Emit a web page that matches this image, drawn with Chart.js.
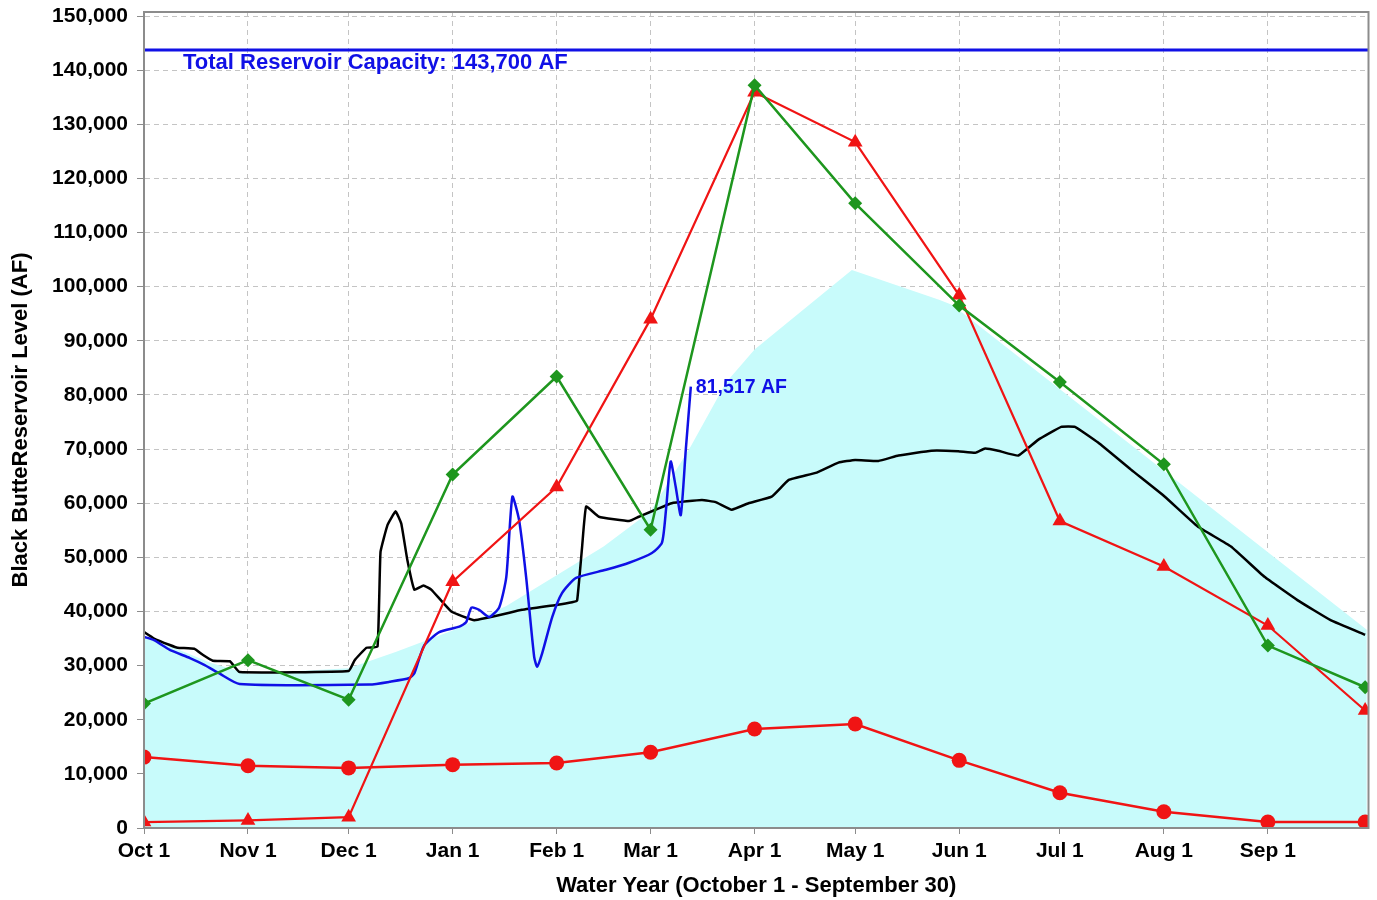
<!DOCTYPE html>
<html>
<head>
<meta charset="utf-8">
<title>Black Butte Reservoir Level</title>
<script src="https://cdn.jsdelivr.net/npm/chart.js@4.4.1/dist/chart.umd.min.js"></script>
<style>
  html, body { margin: 0; padding: 0; background: #fff; }
  canvas { display: block; }
</style>
</head>
<body>
<canvas id="myChart" width="1377" height="900"></canvas>
<script>
// days counted from Oct 1 of the water year
var tickDays = [0, 31, 61, 92, 123, 151, 182, 212, 243, 273, 304, 335];
var tickLabels = ["Oct 1", "Nov 1", "Dec 1", "Jan 1", "Feb 1", "Mar 1", "Apr 1", "May 1", "Jun 1", "Jul 1", "Aug 1", "Sep 1"];
var yTickValues = [0, 10000, 20000, 30000, 40000, 50000, 60000, 70000, 80000, 90000, 100000, 110000, 120000, 130000, 140000, 150000];

var capacityAF = 143700;

// first of each month plus Sep 30
var monthDays = [0, 31, 61, 92, 123, 151, 182, 212, 243, 273, 304, 335, 364];
var redCircleAF = [13100, 11500, 11100, 11700, 12000, 14000, 18300, 19200, 12500, 6500, 3000, 1100, 1100];
var redTriangleAF = [1100, 1400, 2000, 45500, 63000, 94000, 135900, 126700, 98400, 56700, 48300, 37400, 21700];
var greenDiamondAF = [23000, 31000, 23700, 65300, 83400, 55100, 137200, 115400, 96500, 82400, 67200, 33700, 26000];

// shaded band
var areaDays = [0, 10, 20, 31, 61, 75, 92, 108, 123, 137, 151, 163, 173.5, 182, 211, 237, 241, 364.5];
var areaAF = [35300, 33000, 30500, 28500, 29500, 32500, 36500, 41000, 46700, 52000, 58500, 70500, 82300, 88400, 103100, 97600, 96600, 36600];

// black trace
var blackDays = [0, 3, 7.7, 10, 15, 17.5, 20.5, 25.6, 28.5, 61, 62.8, 66.3, 69.6, 70.5, 72.6, 75, 76.7, 78.5, 80.6, 83.3, 85.7,
  91.6, 98.5, 112.7, 122.8, 127.6, 129.1, 130.6, 131.8, 135.6, 144.6, 147.5, 157.3, 166.3, 170.4, 175.2, 180.2, 187.1, 192.2,
  200.2, 207, 212, 218.9, 224.9, 234.7, 242.7, 247.8, 250.7, 254.6, 260.6, 266.5, 273.4, 277.5, 284.4, 294.2, 304.3, 314.1,
  324, 334, 343.8, 353.7, 364];
var blackAF = [36200, 35000, 33800, 33300, 33100, 32000, 30900, 30800, 28800, 29000, 31000, 33300, 33500, 51000, 56000, 58500, 56200, 49500, 44000, 44800, 44000,
  40000, 38400, 40300, 41200, 41700, 42000, 52000, 59400, 57500, 56700, 57500, 60000, 60600, 60200, 58800, 60000, 61200, 64300,
  65600, 67500, 68000, 67800, 68800, 69700, 69600, 69300, 70100, 69700, 68800, 71700, 74100, 74100, 71200, 66200, 61200, 55700,
  52000, 46400, 42100, 38400, 35700];

// blue trace, ends at the latest reading
var blueDays = [0, 3, 7.7, 13.7, 18.1, 22.6, 28.5, 67.2, 73.2, 79.1, 80.6, 82.1, 83.6, 88, 94, 96, 97.6, 99.9, 102.9, 105.9, 108,
  109.8, 111.8, 113.9, 116.3, 117.2, 118.7, 121.7, 124.6, 128.8, 137.7, 144.6, 151.4, 154.4, 155.6, 157, 158.5, 160, 161.5, 163];
var blueAF = [35300, 34700, 32900, 31400, 30100, 28500, 26600, 26500, 27000, 27700, 28600, 31400, 33800, 36200, 37200, 38000, 40700, 40300, 39000, 40800, 46400,
  61200, 56900, 46400, 31600, 29800, 32300, 39000, 43400, 46200, 47700, 49000, 50800, 52700, 58800, 67700, 63000, 57800, 69900, 81517];

var FONT = "'Liberation Sans', Arial, Helvetica, sans-serif";
var BLUE = "#1010e6";
var RED = "#f01414";
var GREEN = "#1e961e";

function pairs(xs, ys) {
    return xs.map(function (x, i) { return { x: x, y: ys[i] }; });
}

function fmt(v) {
    return v.toLocaleString("en-US");
}

// captions, plus the box around the plot
var extras = {
    id: "extras",
    afterDatasetsDraw: function (chart) {
        var ctx = chart.ctx;
        var area = chart.chartArea;
        var xs = chart.scales.x;
        var ys = chart.scales.y;
        ctx.save();
        ctx.strokeStyle = "#8c8c8c";
        ctx.lineWidth = 2;
        ctx.strokeRect(area.left, area.top, area.right - area.left, area.bottom - area.top);

        ctx.fillStyle = BLUE;
        ctx.font = "bold 22px " + FONT;
        ctx.textBaseline = "middle";
        ctx.textAlign = "left";
        ctx.fillText("Total Reservoir Capacity: " + fmt(capacityAF) + " AF", area.left + 39, ys.getPixelForValue(capacityAF) + 13);

        var lastDay = blueDays[blueDays.length - 1];
        var lastAF = blueAF[blueAF.length - 1];
        ctx.font = "bold 19.5px " + FONT;
        ctx.fillText(fmt(lastAF) + " AF", xs.getPixelForValue(lastDay) + 5, ys.getPixelForValue(lastAF) + 1);
        ctx.restore();
    }
};

var ctx = document.getElementById("myChart").getContext("2d");
var myChart = new Chart(ctx, {
    type: "line",
    data: {
        datasets: [{
            label: "Capacity",
            data: [{ x: 0, y: capacityAF }, { x: 365, y: capacityAF }],
            borderColor: BLUE,
            borderWidth: 3,
            pointRadius: 0
        }, {
            label: "Red circles",
            data: pairs(monthDays, redCircleAF),
            borderColor: RED,
            backgroundColor: RED,
            borderWidth: 2.5,
            pointStyle: "circle",
            pointRadius: 7.5,
            pointBorderWidth: 0
        }, {
            label: "Green diamonds",
            data: pairs(monthDays, greenDiamondAF),
            borderColor: GREEN,
            backgroundColor: GREEN,
            borderWidth: 2.5,
            pointStyle: "rectRot",
            pointRadius: 7,
            pointBorderWidth: 0
        }, {
            label: "Red triangles",
            data: pairs(monthDays, redTriangleAF),
            borderColor: RED,
            backgroundColor: RED,
            borderWidth: 2.2,
            pointStyle: "triangle",
            pointRadius: 8.5,
            pointBorderWidth: 0
        }, {
            label: "Blue trace",
            data: pairs(blueDays, blueAF),
            borderColor: BLUE,
            borderWidth: 2.5,
            pointRadius: 0,
            tension: 0.2
        }, {
            label: "Black trace",
            data: pairs(blackDays, blackAF),
            borderColor: "#000",
            borderWidth: 2.5,
            pointRadius: 0,
            tension: 0.1
        }, {
            label: "Band",
            data: pairs(areaDays, areaAF),
            borderWidth: 0,
            borderColor: "rgba(0,0,0,0)",
            backgroundColor: "#c8fbfb",
            fill: "origin",
            pointRadius: 0
        }]
    },
    options: {
        responsive: false,
        animation: false,
        events: [],
        layout: { padding: { left: 0, right: 6, top: 12, bottom: 0 } },
        plugins: {
            legend: { display: false },
            tooltip: { enabled: false }
        },
        scales: {
            x: {
                type: "linear",
                min: 0,
                max: 365,
                afterBuildTicks: function (scale) {
                    scale.ticks = tickDays.map(function (d) { return { value: d }; });
                },
                afterFit: function (scale) {
                    scale.height = 72;
                    scale.paddingLeft = 0;
                    scale.paddingRight = 0;
                },
                ticks: {
                    autoSkip: false,
                    maxRotation: 0,
                    padding: 5,
                    color: "#000",
                    font: { family: FONT, size: 21, weight: "bold" },
                    callback: function (value) {
                        var i = tickDays.indexOf(value);
                        return i >= 0 ? tickLabels[i] : "";
                    }
                },
                grid: {
                    color: "#c4c4c4",
                    lineWidth: 1,
                    tickLength: 6,
                    tickColor: "#8c8c8c"
                },
                border: { display: true, color: "#8c8c8c", width: 2, dash: [5, 4] },
                title: {
                    display: true,
                    text: "Water Year (October 1 - September 30)",
                    color: "#000",
                    font: { family: FONT, size: 22, weight: "bold" },
                    padding: { top: 1, bottom: 1 }
                }
            },
            y: {
                type: "linear",
                min: 0,
                max: 150740,
                afterBuildTicks: function (scale) {
                    scale.ticks = yTickValues.map(function (v) { return { value: v }; });
                },
                afterFit: function (scale) {
                    scale.width = 144;
                    scale.paddingTop = 0;
                    scale.paddingBottom = 0;
                },
                ticks: {
                    padding: 9,
                    color: "#000",
                    font: { family: FONT, size: 21, weight: "bold" },
                    callback: function (value) { return fmt(value); }
                },
                grid: {
                    color: "#c4c4c4",
                    lineWidth: 1,
                    tickLength: 7,
                    tickColor: "#8c8c8c"
                },
                border: { display: true, color: "#8c8c8c", width: 2, dash: [5, 4] },
                title: {
                    display: true,
                    text: "Black ButteReservoir Level (AF)",
                    color: "#000",
                    font: { family: FONT, size: 22, weight: "bold" },
                    padding: { top: 8, bottom: 8 }
                }
            }
        }
    },
    plugins: [extras]
});
</script>
</body>
</html>
